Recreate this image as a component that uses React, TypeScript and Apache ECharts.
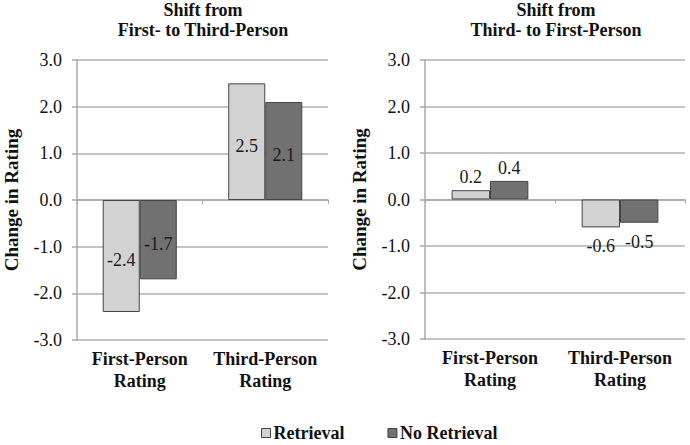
import React, { useEffect, useRef } from "react";
import * as echarts from "echarts";

const categories = ["First-Person\nRating", "Third-Person\nRating"];
const seriesNames = ["Retrieval", "No Retrieval"];
const leftTitle = "Shift from\nFirst- to Third-Person";
const rightTitle = "Shift from\nThird- to First-Person";
const leftRetrieval = [-2.4, 2.5];
const leftNoRetrieval = [-1.7, 2.1];
const rightRetrieval = [0.2, -0.6];
const rightNoRetrieval = [0.4, -0.5];
const yTicks = [-3, -2, -1, 0, 1, 2, 3];

const FONT = "Liberation Serif";
const colors = ["#d2d2d2", "#717171"];

export default function App() {
  const ref = useRef<HTMLDivElement>(null);
  useEffect(() => {
    const chart = echarts.init(ref.current!, null, { renderer: "svg" });
    const grids = [
      { left: 77, top: 60, width: 251, height: 280 },
      { left: 425, top: 60, width: 260, height: 279 },
    ];
    const xAxes: any[] = [];
    const yAxes: any[] = [];
    grids.forEach((g, i) => {
      xAxes.push({
        type: "category",
        gridIndex: i,
        data: categories,
        position: "bottom",
        axisLine: { show: false, onZero: false },
        axisTick: { show: false },
        axisLabel: {
          interval: 0,
          fontFamily: FONT,
          fontWeight: "bold",
          fontSize: 18,
          color: "#111",
          lineHeight: 22,
          margin: 8,
        },
      });
      xAxes.push({
        type: "category",
        gridIndex: i,
        data: categories,
        position: "top",
        axisLine: { show: true, onZero: true, lineStyle: { color: "#a8a8a8", width: 1.5 } },
        axisTick: { show: true, inside: true, length: 4, lineStyle: { color: "#a8a8a8" } },
        axisLabel: { show: false },
      });
      yAxes.push({
        type: "value",
        gridIndex: i,
        min: yTicks[0],
        max: yTicks[yTicks.length - 1],
        interval: 1,
        name: "Change in Rating",
        nameLocation: "middle",
        nameGap: 56,
        nameTextStyle: { fontFamily: FONT, fontWeight: "bold", fontSize: 19, color: "#111" },
        axisLine: { show: true, lineStyle: { color: "#a8a8a8", width: 1.5 } },
        axisTick: { show: true, length: 5, lineStyle: { color: "#a8a8a8", width: 1.5 } },
        axisLabel: {
          fontFamily: FONT,
          fontSize: 18,
          color: "#111",
          margin: 15,
          formatter: (v: number) => v.toFixed(1),
        },
        splitLine: { show: true, lineStyle: { color: "#b0b0b0", width: 1.5 } },
      });
    });

    const makeSeries = (
      name: string,
      values: number[],
      gi: number,
      color: string,
      inside: boolean
    ) => ({
      type: "bar",
      name,
      xAxisIndex: gi * 2,
      yAxisIndex: gi,
      barGap: "0%",
      barCategoryGap: "41%",
      itemStyle: { color, borderColor: "#444", borderWidth: 1 },
      data: values.map((v) => ({
        value: v,
        label: inside
          ? { position: "inside", offset: [0, 4] }
          : v >= 0
          ? { position: "top", distance: 4 }
          : { position: "bottom", distance: 10 },
      })),
      label: {
        show: true,
        fontFamily: FONT,
        fontSize: 18,
        color: "#1a1a1a",
        formatter: (p: any) => Number(p.value).toFixed(1),
      },
    });

    const titleStyle = { fontFamily: FONT, fontWeight: "bold", fontSize: 18, color: "#111", lineHeight: 20 };

    chart.setOption({
      animation: false,
      backgroundColor: "#fff",
      title: [
        { text: leftTitle, left: 203, top: 0, padding: 0, textAlign: "center", textStyle: titleStyle },
        { text: rightTitle, left: 556, top: 0, padding: 0, textAlign: "center", textStyle: titleStyle },
      ],
      legend: {
        data: seriesNames,
        left: 261,
        top: 424,
        padding: 0,
        itemWidth: 9,
        itemHeight: 9,
        itemGap: 43,
        icon: "rect",
        textStyle: { fontFamily: FONT, fontWeight: "bold", fontSize: 18, color: "#111", padding: [0, 0, 0, -2] },
        itemStyle: { borderColor: "#444", borderWidth: 1 },
      },
      grid: grids,
      xAxis: xAxes,
      yAxis: yAxes,
      series: [
        makeSeries(seriesNames[0], leftRetrieval, 0, colors[0], true),
        makeSeries(seriesNames[1], leftNoRetrieval, 0, colors[1], true),
        makeSeries(seriesNames[0], rightRetrieval, 1, colors[0], false),
        makeSeries(seriesNames[1], rightNoRetrieval, 1, colors[1], false),
      ],
    });
    return () => chart.dispose();
  }, []);
  return (
    <div
      ref={ref}
      style={{ position: "fixed", left: 0, top: 0, width: 690, height: 445, background: "#fff" }}
    />
  );
}
